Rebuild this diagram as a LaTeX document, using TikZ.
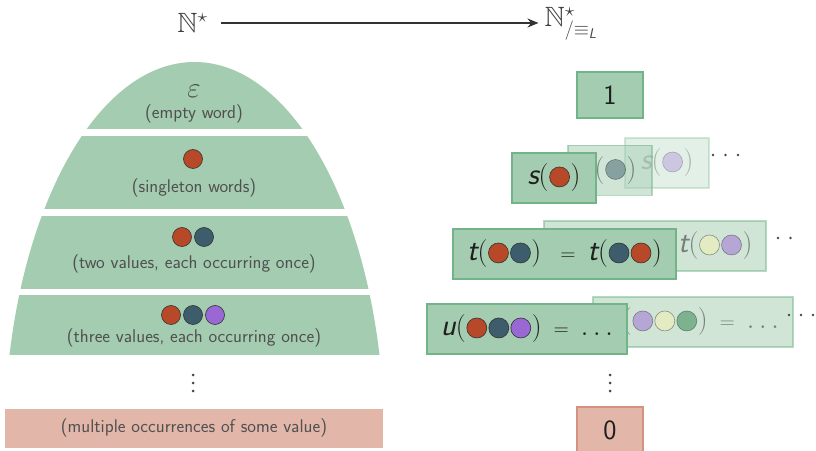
\documentclass[tikz,border=0pt]{standalone}
\usepackage{fix-cm}
\usepackage{amsmath}
\usepackage{amssymb}
\usepackage{fontspec}
\renewcommand{\familydefault}{\sfdefault}
\usetikzlibrary{arrows.meta}
\definecolor{boxgreen}{RGB}{163,204,176}
\definecolor{boxgreenline}{RGB}{112,180,135}
\definecolor{boxred}{RGB}{227,182,170}
\definecolor{boxredline}{RGB}{214,146,128}
\definecolor{captiongray}{RGB}{80,80,80}
\definecolor{vred}{RGB}{183,73,41}
\definecolor{vteal}{RGB}{62,93,108}
\definecolor{vpurple}{RGB}{154,104,212}
\definecolor{vyellow}{RGB}{245,240,170}
\definecolor{vgreen}{RGB}{40,130,70}
\definecolor{dotline}{RGB}{50,50,50}
\definecolor{dotgray}{RGB}{70,70,70}
\newcommand{\vd}[1]{\tikz[baseline=-8bp,x=1bp,y=1bp]{\useasboundingbox (-11,-10) rectangle (11,10);\filldraw[fill=#1,draw=dotline,line width=0.6bp] (0,0) circle (10);}}
\newcommand{\vl}[1]{\textit{\fontsize{31}{31}\selectfont #1}}
\newcommand{\eqs}[2]{\hspace{#1}{\fontsize{21}{21}\selectfont =}\hspace{#2}}
\tikzset{
  gbox/.style={draw=boxgreenline, fill=boxgreen, line width=1.5bp, inner sep=0pt,
    minimum height=50bp, text=black!88, font=\fontsize{28}{32}\selectfont},
  rbox/.style={gbox, draw=boxredline, fill=boxred},
  caption/.style={text=captiongray, font=\fontsize{18.5}{22}\selectfont, inner sep=0pt, anchor=base},
  toplabel/.style={text=black!75, font=\fontsize{28}{32}\selectfont, inner sep=0pt},
  vdotstyle/.style={draw=dotline, line width=0.6bp},
  smalldot/.style={fill=dotgray},
  band/.style={fill=boxgreen},
}
\begin{document}
\begin{tikzpicture}[x=1bp,y=-1bp]
\useasboundingbox (0,0) rectangle (816,451);
% top labels and arrow
\node[toplabel] (nstar) at (192.5,23) {$\mathbb{N}^{\star}$};
\node[toplabel] (nquot) at (571,24) {$\mathbb{N}^{\star}_{/\equiv_{\textit{L}}}$};
\draw[-{Stealth[length=11bp,width=9bp]}, line width=1.3bp, draw=black!80, shorten <=13bp, shorten >=6bp] (nstar.east) -- (nquot.west |- nstar.east);
% left dome
\begin{scope}
  \clip (194.5,442) ellipse [x radius=190, y radius=380];
  \fill[band] (0,55) rectangle (400,129);
  \fill[band] (0,136) rectangle (400,209);
  \fill[band] (0,216) rectangle (400,289);
  \fill[band] (0,295) rectangle (400,355);
\end{scope}
\fill[boxred] (5,409) rectangle (383,448);
% band contents
\node[caption, text=black!70, font=\fontsize{29}{32}\selectfont] (eps) at (194,98) {$\varepsilon$};
\node[caption] (c1) at (194,119) {(empty word)};
\filldraw[vdotstyle, fill=vred] (193,159) circle (9.5);
\node[caption] (c2) at (194,193) {(singleton words)};
\filldraw[vdotstyle, fill=vred] (182,237) circle (9.5);
\filldraw[vdotstyle, fill=vteal] (204,237) circle (9.5);
\node[caption] (c3) at (194,269) {(two values, each occurring once)};
\filldraw[vdotstyle, fill=vred] (171,315) circle (9.5);
\filldraw[vdotstyle, fill=vteal] (193,315) circle (9.5);
\filldraw[vdotstyle, fill=vpurple] (215,315) circle (9.5);
\node[caption] (c4) at (194,343) {(three values, each occurring once)};
\foreach \yy in {375,383,391} \fill[smalldot] (193,\yy) circle (1.5);
\node[caption] (c5) at (194,432) {(multiple occurrences of some value)};
% right column
\node[gbox, minimum width=66bp, minimum height=46bp] (one) at (610,95) {1};
% s row
\begin{scope}[opacity=0.3]
  \node[gbox, minimum width=84bp] (s3) at (667,163) {$\vl{s}(\vd{vpurple})$};
\end{scope}
\begin{scope}[opacity=0.5]
  \node[gbox, minimum width=84bp] (s2) at (610,170.5) {$\vl{s}(\vd{vteal})$};
\end{scope}
\node[gbox, minimum width=84bp] (s1) at (554,178) {$\vl{s}(\vd{vred})$};
\foreach \xx in {713,725.5,738} \fill[smalldot] (\xx,155) circle (1.3);
% t row
\begin{scope}[opacity=0.5]
  \node[gbox, minimum width=222bp] (t2) at (655,246) {$\vl{t}(\vd{vpurple}\vd{vyellow})$\eqs{19bp}{12bp}$\vl{t}(\vd{vyellow}\vd{vpurple})$};
\end{scope}
\node[gbox, minimum width=223bp] (t1) at (564.5,254) {$\vl{t}(\vd{vred}\vd{vteal})$\eqs{19bp}{12bp}$\vl{t}(\vd{vteal}\vd{vred})$};
\foreach \xx in {778,790.5} \fill[smalldot] (\xx,238) circle (1.3);
% u row
\begin{scope}[opacity=0.5]
  \node[gbox, minimum width=200bp] (u2) at (693,322) {$\vl{u}(\vd{vpurple}\vd{vyellow}\vd{vgreen})$\eqs{12bp}{12bp}$\ldots$};
\end{scope}
\node[gbox, minimum width=200bp] (u1) at (527,329) {$\vl{u}(\vd{vred}\vd{vteal}\vd{vpurple})$\eqs{12bp}{12bp}$\ldots$};
\foreach \xx in {789,801,813} \fill[smalldot] (\xx,315) circle (1.3);
% bottom
\foreach \yy in {375,383,391} \fill[smalldot] (610,\yy) circle (1.5);
\node[rbox, minimum width=66bp, minimum height=46bp] (zero) at (610,430) {0};
\end{tikzpicture}
\end{document}
